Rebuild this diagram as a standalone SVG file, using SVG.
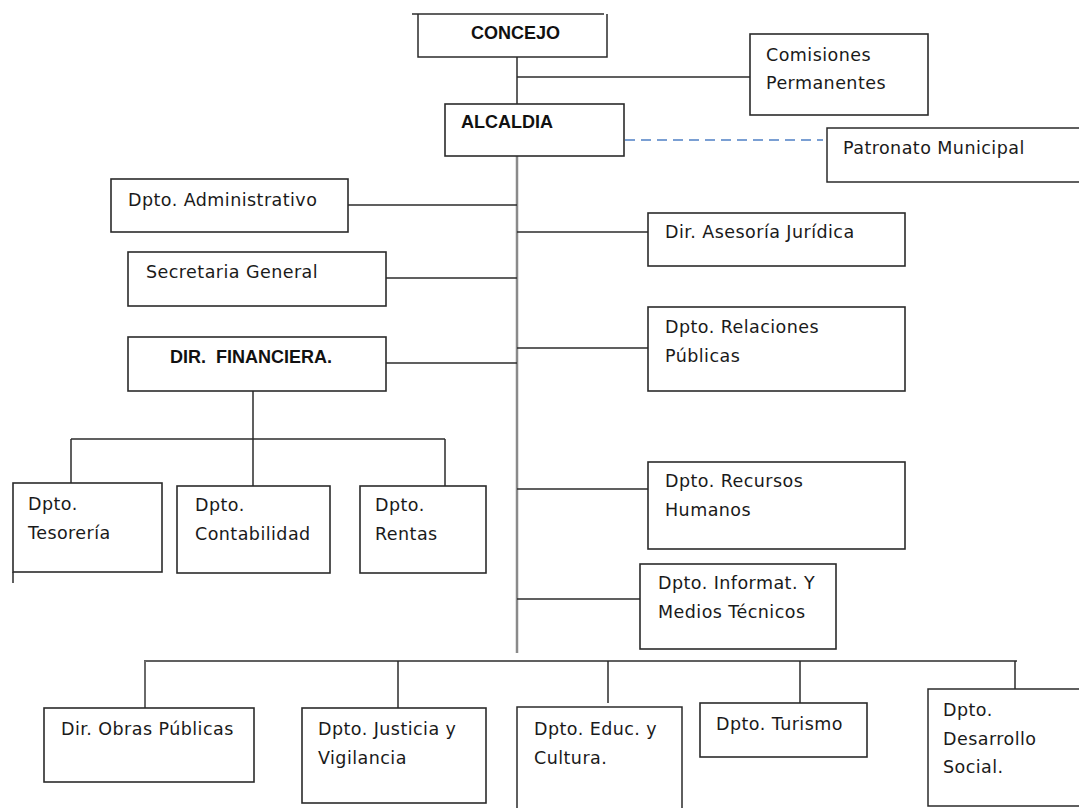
<svg xmlns="http://www.w3.org/2000/svg" width="1079" height="808" viewBox="0 0 1079 808">
<style>
  .box { fill: #ffffff; stroke: #2b2b2b; stroke-width: 1.6; }
  .ln { fill: none; stroke: #2b2b2b; stroke-width: 1.5; }
  .trunk { fill: none; stroke: #8a8a8a; stroke-width: 2.5; }
  .dash { fill: none; stroke: #7a9fd3; stroke-width: 2; stroke-dasharray: 10 6; }
  .t { font-family: "DejaVu Sans", "Liberation Sans", sans-serif; font-size: 17.5px; letter-spacing: 0.45px; fill: #1a1a1a; }
  .b { font-family: "Liberation Sans", "DejaVu Sans", sans-serif; font-size: 18px; font-weight: bold; fill: #111111; white-space: pre; }
</style>
<rect width="1079" height="808" fill="#ffffff"/>
<g id="connectors">
  <line class="ln" x1="517" y1="57" x2="517" y2="104"/>
  <line class="trunk" x1="517" y1="156" x2="517" y2="653"/>
  <line class="ln" x1="517" y1="77" x2="750" y2="77"/>
  <line class="dash" x1="625" y1="140" x2="823" y2="140"/>
  <line class="ln" x1="348" y1="205" x2="517" y2="205"/>
  <line class="ln" x1="517" y1="232" x2="648" y2="232"/>
  <line class="ln" x1="386" y1="278" x2="517" y2="278"/>
  <line class="ln" x1="517" y1="348" x2="648" y2="348"/>
  <line class="ln" x1="386" y1="363" x2="517" y2="363"/>
  <line class="ln" x1="517" y1="489" x2="648" y2="489"/>
  <line class="ln" x1="517" y1="599" x2="640" y2="599"/>
  <line class="ln" x1="253" y1="391" x2="253" y2="439" stroke="#6a6a6a"/>
  <line class="ln" x1="71" y1="439" x2="445" y2="439"/>
  <line class="ln" x1="71" y1="439" x2="71" y2="483"/>
  <line class="ln" x1="253" y1="439" x2="253" y2="486"/>
  <line class="ln" x1="445" y1="439" x2="445" y2="486"/>
  <line class="ln" x1="144" y1="661" x2="1017" y2="661"/>
  <line class="ln" x1="145" y1="661" x2="145" y2="710" style="stroke:#6a6a6a;stroke-width:2"/>
  <line class="ln" x1="398" y1="661" x2="398" y2="708"/>
  <line class="ln" x1="608" y1="661" x2="608" y2="703"/>
  <line class="ln" x1="800" y1="661" x2="800" y2="703"/>
  <line class="ln" x1="1015" y1="661" x2="1015" y2="689"/>
</g>
<g id="concejo">
  <line class="ln" x1="412" y1="14" x2="604" y2="14"/>
  <path class="ln" d="M418 14 V57 H607 V14"/>
  <text class="b" x="471" y="39">CONCEJO</text>
</g>
<g id="comisiones">
  <rect class="box" x="750" y="34" width="178" height="81"/>
  <text class="t" x="766" y="61">Comisiones</text>
  <text class="t" x="766" y="89">Permanentes</text>
</g>
<g id="alcaldia">
  <rect class="box" x="445" y="104" width="179" height="52"/>
  <text class="b" x="461" y="128">ALCALDIA</text>
</g>
<g id="patronato">
  <path class="ln" d="M1081 128 H827 V182 H1081"/>
  <text class="t" x="843" y="154">Patronato Municipal</text>
</g>
<g id="administrativo">
  <rect class="box" x="111" y="179" width="237" height="53"/>
  <text class="t" x="128" y="206">Dpto. Administrativo</text>
</g>
<g id="asesoria">
  <rect class="box" x="648" y="213" width="257" height="53"/>
  <text class="t" x="665" y="238">Dir. Asesoría Jurídica</text>
</g>
<g id="secretaria">
  <rect class="box" x="128" y="252" width="258" height="54"/>
  <text class="t" x="146" y="278">Secretaria General</text>
</g>
<g id="financiera">
  <rect class="box" x="128" y="337" width="258" height="54"/>
  <text class="b" x="170" y="363">DIR.  FINANCIERA.</text>
</g>
<g id="relaciones">
  <rect class="box" x="648" y="307" width="257" height="84"/>
  <text class="t" x="665" y="333">Dpto. Relaciones</text>
  <text class="t" x="665" y="362">Públicas</text>
</g>
<g id="tesoreria">
  <rect class="box" x="13" y="483" width="149" height="89"/>
  <line class="ln" x1="13" y1="572" x2="13" y2="583"/>
  <text class="t" x="28" y="510">Dpto.</text>
  <text class="t" x="28" y="539">Tesorería</text>
</g>
<g id="contabilidad">
  <rect class="box" x="177" y="486" width="153" height="87"/>
  <text class="t" x="195" y="511">Dpto.</text>
  <text class="t" x="195" y="540">Contabilidad</text>
</g>
<g id="rentas">
  <rect class="box" x="360" y="486" width="126" height="87"/>
  <text class="t" x="375" y="511">Dpto.</text>
  <text class="t" x="375" y="540">Rentas</text>
</g>
<g id="recursos">
  <rect class="box" x="648" y="462" width="257" height="87"/>
  <text class="t" x="665" y="487">Dpto. Recursos</text>
  <text class="t" x="665" y="516">Humanos</text>
</g>
<g id="informatica">
  <rect class="box" x="640" y="564" width="196" height="85"/>
  <text class="t" x="658" y="589">Dpto. Informat. Y</text>
  <text class="t" x="658" y="618">Medios Técnicos</text>
</g>
<g id="obras">
  <rect class="box" x="44" y="708" width="210" height="74"/>
  <text class="t" x="61" y="735">Dir. Obras Públicas</text>
</g>
<g id="justicia">
  <rect class="box" x="302" y="708" width="184" height="95"/>
  <text class="t" x="318" y="735">Dpto. Justicia y</text>
  <text class="t" x="318" y="764">Vigilancia</text>
</g>
<g id="educacion">
  <path class="ln" d="M517 812 V707 H682 V812"/>
  <text class="t" x="534" y="735">Dpto. Educ. y</text>
  <text class="t" x="534" y="764">Cultura.</text>
</g>
<g id="turismo">
  <rect class="box" x="700" y="703" width="167" height="54"/>
  <text class="t" x="716" y="730">Dpto. Turismo</text>
</g>
<g id="desarrollo">
  <path class="ln" d="M1081 689 H928 V806 H1081"/>
  <text class="t" x="943" y="716">Dpto.</text>
  <text class="t" x="943" y="745">Desarrollo</text>
  <text class="t" x="943" y="773">Social.</text>
</g>
</svg>
